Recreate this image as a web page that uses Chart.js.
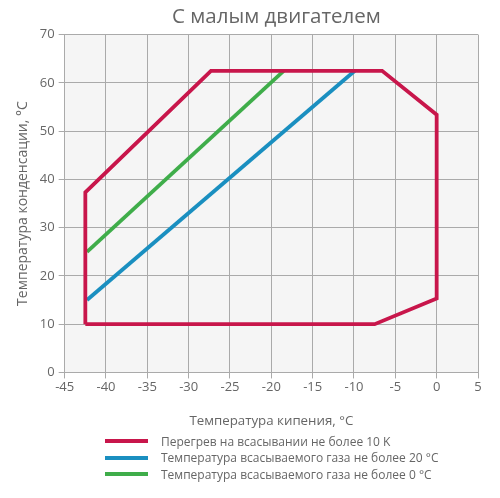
<!DOCTYPE html>
<html><head><meta charset="utf-8">
<script src="https://cdn.jsdelivr.net/npm/chart.js@4/dist/chart.umd.min.js"></script>
<style>
html,body{margin:0;padding:0;background:#fff;}
#wrap{position:relative;width:500px;height:498px;}
#legend{position:absolute;left:105px;top:433px;font-family:"Open Sans",sans-serif;font-size:12px;color:#666;}
.li{display:flex;align-items:center;height:16.5px;}
.sw{width:43px;height:4px;margin-right:13px;}
</style></head>
<body><div id="wrap"><canvas id="c" width="500" height="498"></canvas>
<div id="legend"></div></div>
<script>
const seriesNames = ["Перегрев на всасывании не более 10 K","Температура всасываемого газа не более 20 °C","Температура всасываемого газа не более 0 °C"];
const redX = [-42.5,-42.5,-27.3,-6.6,0,0,-7.5,-42.5];
const redY = [10,37.3,62.5,62.5,53.4,15.3,10,10];
const blueX = [-42.3,-9.9];
const blueY = [15,62.5];
const greenX = [-42.3,-18.5];
const greenY = [25,62.5];
const colors = ["#c8164b","#1a8fc0","#3fad4a"];
const xTicks = [-45,-40,-35,-30,-25,-20,-15,-10,-5,0,5];
const yTicks = [0,10,20,30,40,50,60,70];
const pts=(xs,ys)=>xs.map((x,i)=>({x:x,y:ys[i]}));
const bg={id:'bg',beforeDraw(c){const a=c.chartArea,ctx=c.ctx;ctx.save();ctx.fillStyle='#f5f5f5';ctx.fillRect(a.left,a.top,a.right-a.left,a.bottom-a.top);ctx.restore();}};
const font="'Open Sans', sans-serif";
new Chart(document.getElementById('c'),{
 type:'scatter',
 data:{datasets:[
  {label:seriesNames[0],data:pts(redX,redY),borderColor:colors[0],backgroundColor:colors[0],showLine:true,pointRadius:0,borderWidth:3.8,borderJoinStyle:'miter'},
  {label:seriesNames[1],data:pts(blueX,blueY),borderColor:colors[1],backgroundColor:colors[1],showLine:true,pointRadius:0,borderWidth:3.8},
  {label:seriesNames[2],data:pts(greenX,greenY),borderColor:colors[2],backgroundColor:colors[2],showLine:true,pointRadius:0,borderWidth:3.8}
 ]},
 options:{responsive:false,animation:false,
  layout:{padding:{left:11,right:22,top:0,bottom:65}},
  plugins:{legend:{display:false},tooltip:{enabled:false},
   title:{display:true,fullSize:false,text:'\u2002С малым двигателем',color:'#666',font:{family:font,size:20.5,weight:'normal'},padding:{top:5,bottom:5}}},
  scales:{
   x:{type:'linear',min:-45,max:5,afterBuildTicks:s=>{s.ticks=xTicks.map(v=>({value:v}));},
    grid:{color:'#aaa',tickLength:6,drawTicks:true},border:{color:'#aaa'},
    ticks:{color:'#666',font:{family:font,size:13},padding:1},
    title:{display:true,text:'Температура кипения, °C',color:'#666',font:{family:font,size:13.3},padding:{top:17}}},
   y:{type:'linear',min:0,max:70,afterBuildTicks:s=>{s.ticks=yTicks.map(v=>({value:v}));},
    grid:{color:'#aaa',tickLength:6},border:{color:'#aaa'},
    ticks:{color:'#666',font:{family:font,size:13},padding:4},
    title:{display:true,text:'Температура конденсации, °C',color:'#666',font:{family:font,size:14},padding:{bottom:4}}}
  }},
 plugins:[bg]
});
const lg=document.getElementById('legend');
seriesNames.forEach((n,i)=>{const d=document.createElement('div');d.className='li';d.innerHTML='<span class="sw" style="background:'+colors[i]+'"></span><span>'+n+'</span>';lg.appendChild(d);});
</script></body></html>
